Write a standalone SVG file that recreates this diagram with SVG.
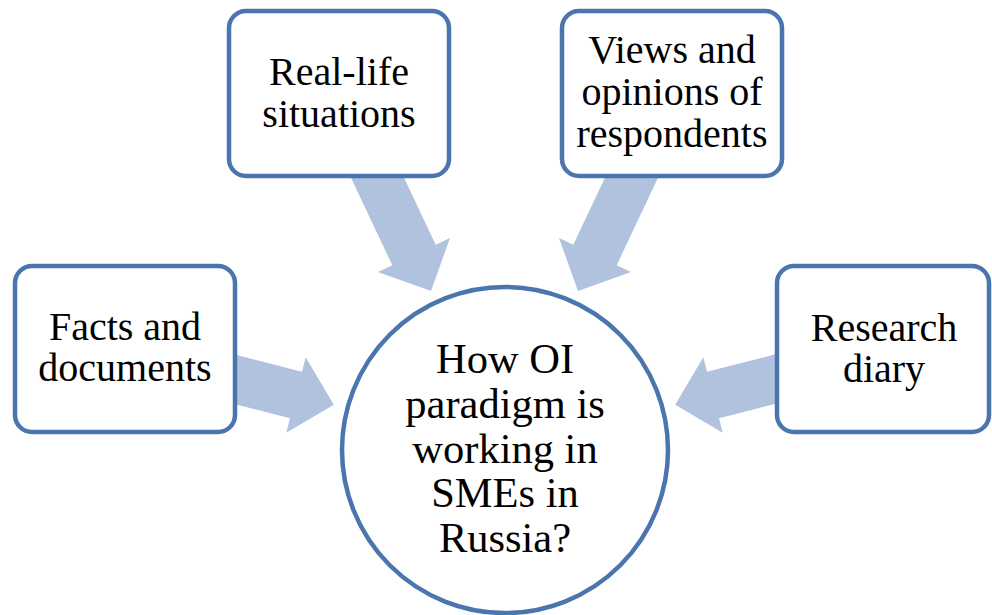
<svg xmlns="http://www.w3.org/2000/svg" width="992" height="615" viewBox="0 0 992 615">
  <style>
    .box { fill: #ffffff; stroke: #4a75ad; stroke-width: 4.5; }
    .hub { fill: #ffffff; stroke: #4a75ad; stroke-width: 4.5; }
    .arrow { fill: #b1c2de; stroke: none; }
    .lbl { font-family: "Liberation Serif", "Times New Roman", serif; font-size: 40px; fill: #000000; text-anchor: middle; }
    .hubtxt { font-family: "Liberation Serif", "Times New Roman", serif; font-size: 42.5px; fill: #000000; text-anchor: middle; }
  </style>
  <rect width="992" height="615" fill="#ffffff"/>

  <!-- block arrows converging on the central question -->
  <g id="connectors">
    <polygon class="arrow" points="347.3,170 400.4,170 435.7,244.8 450,238 431,291 378,272 392.3,265.2"/>
    <polygon class="arrow" points="661.7,170 608.6,170 573.3,244.8 559,238 578,291 631,272 616.7,265.2"/>
    <polygon class="arrow" points="228,352.8 302,371.7 305.7,357.2 333.8,404.7 286.3,432.8 290,418.3 228,402.4"/>
    <polygon class="arrow" points="781,352.8 707,371.7 703.3,357.2 675.2,404.7 722.7,432.8 719,418.3 781,402.4"/>
  </g>

  <g id="real-life">
    <rect class="box" x="229" y="11" width="220" height="165" rx="17"/>
    <text class="lbl" x="339" y="85">Real-life</text>
    <text class="lbl" x="339" y="127">situations</text>
  </g>

  <g id="views">
    <rect class="box" x="562" y="11" width="220" height="165" rx="17"/>
    <text class="lbl" x="672" y="63">Views and</text>
    <text class="lbl" x="672" y="105">opinions of</text>
    <text class="lbl" x="672" y="147">respondents</text>
  </g>

  <g id="facts">
    <rect class="box" x="15" y="266" width="220" height="166" rx="17"/>
    <text class="lbl" x="125" y="340">Facts and</text>
    <text class="lbl" x="125" y="381">documents</text>
  </g>

  <g id="diary">
    <rect class="box" x="777" y="266" width="212" height="166" rx="17"/>
    <text class="lbl" x="884" y="341">Research</text>
    <text class="lbl" x="884" y="382">diary</text>
  </g>

  <g id="question">
    <circle class="hub" cx="505" cy="450" r="163"/>
    <text class="hubtxt" x="505" y="373">How OI</text>
    <text class="hubtxt" x="505" y="418">paradigm is</text>
    <text class="hubtxt" x="505" y="463">working in</text>
    <text class="hubtxt" x="505" y="507">SMEs in</text>
    <text class="hubtxt" x="505" y="552">Russia?</text>
  </g>
</svg>
